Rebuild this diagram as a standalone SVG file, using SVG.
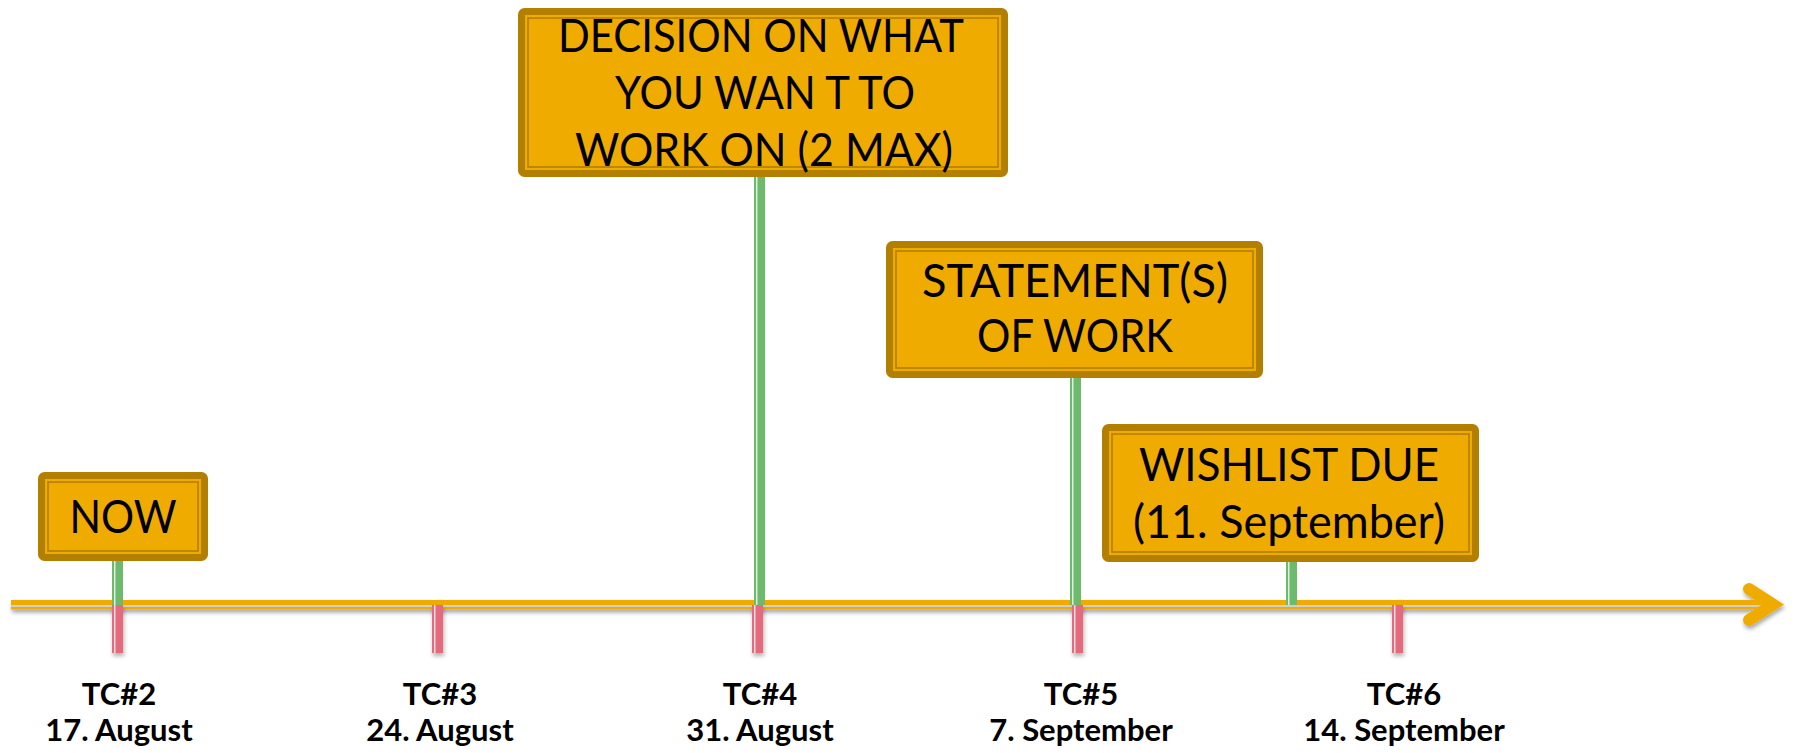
<svg xmlns="http://www.w3.org/2000/svg" width="1794" height="753" viewBox="0 0 1794 753">
  <defs>
    <filter id="shadow" x="-5%" y="-50%" width="110%" height="250%">
      <feDropShadow dx="1" dy="3" stdDeviation="2" flood-color="#000" flood-opacity="0.35"/>
    </filter>
    <filter id="tshadow" x="-100%" y="-20%" width="300%" height="140%">
      <feDropShadow dx="1" dy="3" stdDeviation="2" flood-color="#000" flood-opacity="0.3"/>
    </filter>
  </defs>
  <style>
    .box { fill: #f0ab00; stroke: #b27f00; stroke-width: 7; }
    .inner { fill: none; stroke: #b27f00; stroke-width: 1.6; }
    .btxt { font-family: Lato, "Liberation Sans", sans-serif; font-size: 46px; fill: #000; text-anchor: middle; }
    .lbl { font-family: Lato, "Liberation Sans", sans-serif; font-size: 31px; font-weight: bold; fill: #000; text-anchor: middle; }
    .stem { fill: #6dba6d; }
    .tick { fill: #e66b7b; }
    .stripe { fill: #f4f4f4; opacity: 0.85; }
    .axis { stroke: #f0ab00; fill: none; }
  </style>

  <!-- timeline axis -->
  <g id="axis" filter="url(#shadow)">
    <rect x="11" y="600" width="1760" height="9.5" fill="#f0ab00"/>
    <rect x="11" y="605" width="1760" height="2" fill="#cfcfcf"/>
    <polyline class="axis" points="1749,589 1773,604.5 1749,620" stroke-width="12" stroke-linecap="round" stroke-linejoin="miter"/>
  </g>

  <!-- connectors: stems from boxes to the axis -->
  <g id="connectors">
    <rect class="stem" x="112" y="561" width="11" height="44"/>
    <rect class="stripe" x="114" y="561" width="1.5" height="44"/>
    <rect class="stem" x="754" y="177" width="11" height="428"/>
    <rect class="stripe" x="756" y="177" width="1.5" height="428"/>
    <rect class="stem" x="1070" y="378" width="11" height="227"/>
    <rect class="stripe" x="1072" y="378" width="1.5" height="227"/>
    <rect class="stem" x="1286" y="562" width="11" height="43"/>
    <rect class="stripe" x="1288" y="562" width="1.5" height="43"/>
  </g>

  <!-- ticks -->
  <g id="ticks" filter="url(#tshadow)">
    <rect class="tick" x="112" y="605" width="11" height="48"/>
    <rect class="tick" x="432" y="605" width="11" height="48"/>
    <rect class="tick" x="752" y="605" width="11" height="48"/>
    <rect class="tick" x="1072" y="605" width="11" height="48"/>
    <rect class="tick" x="1392" y="605" width="11" height="48"/>
  </g>
  <g id="tickstripes">
    <rect class="stripe" x="114" y="605" width="1.5" height="48"/>
    <rect class="stripe" x="434" y="605" width="1.5" height="48"/>
    <rect class="stripe" x="754" y="605" width="1.5" height="48"/>
    <rect class="stripe" x="1074" y="605" width="1.5" height="48"/>
    <rect class="stripe" x="1394" y="605" width="1.5" height="48"/>
  </g>

  <!-- nodes -->
  <g id="now">
    <rect class="box" x="41.5" y="475.5" width="163" height="82" rx="3"/>
    <rect class="inner" x="48" y="482" width="150" height="69"/>
    <text class="btxt" x="123" y="533" textLength="107" lengthAdjust="spacingAndGlyphs">NOW</text>
  </g>

  <g id="decision">
    <rect class="box" x="521.5" y="11.5" width="483" height="162" rx="3"/>
    <rect class="inner" x="528" y="18" width="470" height="149"/>
    <text class="btxt" x="761" y="52" textLength="406" lengthAdjust="spacingAndGlyphs">DECISION ON WHAT</text>
    <text class="btxt" x="765" y="109" textLength="300" lengthAdjust="spacingAndGlyphs">YOU WAN T TO</text>
    <text class="btxt" x="764" y="166" textLength="378" lengthAdjust="spacingAndGlyphs">WORK ON (2 MAX)</text>
  </g>

  <g id="statement">
    <rect class="box" x="889.5" y="244.5" width="370" height="130" rx="3"/>
    <rect class="inner" x="896" y="251" width="357" height="117"/>
    <text class="btxt" x="1075" y="297" textLength="306" lengthAdjust="spacingAndGlyphs">STATEMENT(S)</text>
    <text class="btxt" x="1075" y="352" textLength="196" lengthAdjust="spacingAndGlyphs">OF WORK</text>
  </g>

  <g id="wishlist">
    <rect class="box" x="1105.5" y="427.5" width="370" height="131" rx="3"/>
    <rect class="inner" x="1112" y="434" width="357" height="118"/>
    <text class="btxt" x="1289" y="481" textLength="300" lengthAdjust="spacingAndGlyphs">WISHLIST DUE</text>
    <text class="btxt" x="1289" y="538" textLength="312" lengthAdjust="spacingAndGlyphs">(11. September)</text>
  </g>

  <!-- tick labels -->
  <g id="labels">
    <text class="lbl" x="119" y="705">TC#2</text>
    <text class="lbl" x="119" y="741">17. August</text>
    <text class="lbl" x="440" y="705">TC#3</text>
    <text class="lbl" x="440" y="741">24. August</text>
    <text class="lbl" x="760" y="705">TC#4</text>
    <text class="lbl" x="760" y="741">31. August</text>
    <text class="lbl" x="1081" y="705">TC#5</text>
    <text class="lbl" x="1081" y="741">7. September</text>
    <text class="lbl" x="1404" y="705">TC#6</text>
    <text class="lbl" x="1404" y="741">14. September</text>
  </g>
</svg>
